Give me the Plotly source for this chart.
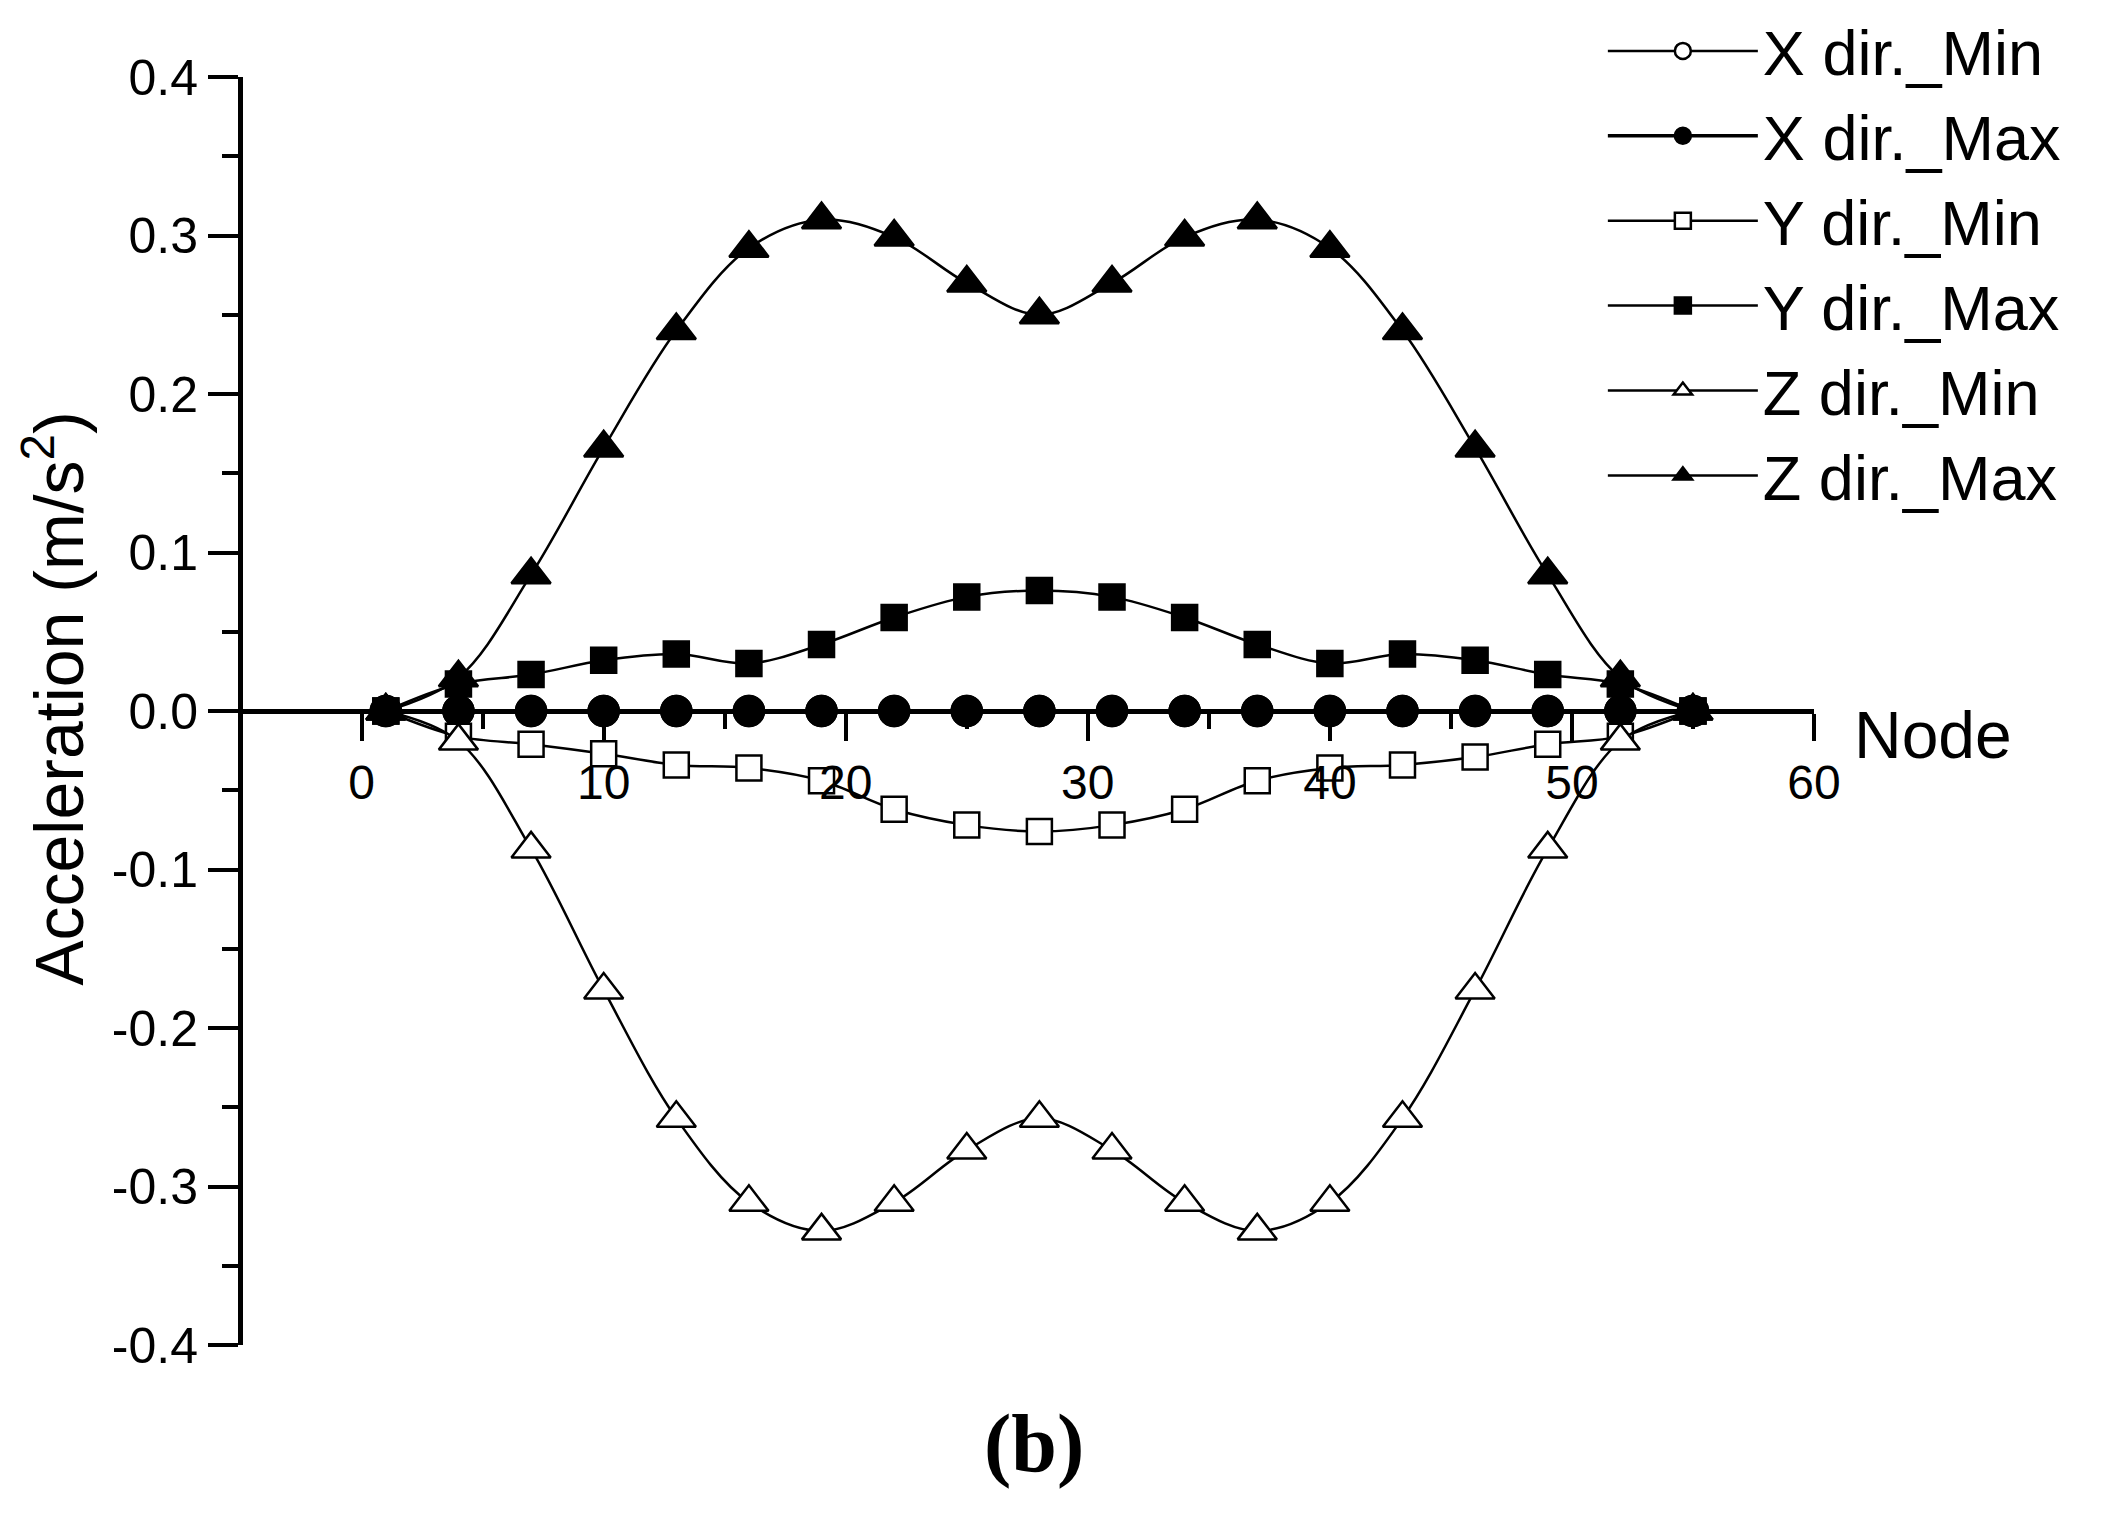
import plotly.graph_objects as go

nodes = [1, 4, 7, 10, 13, 16, 19, 22, 25, 28, 31, 34, 37, 40, 43, 46, 49, 52, 55]

x_min = [0.0] * 19
x_max = [0.0] * 19
y_min = [0.0, -0.016, -0.021, -0.027, -0.034, -0.036, -0.044, -0.062, -0.072, -0.076,
         -0.072, -0.062, -0.044, -0.036, -0.034, -0.029, -0.021, -0.016, 0.0]
y_max = [0.0, 0.017, 0.023, 0.032, 0.036, 0.030, 0.042, 0.059, 0.072, 0.076,
         0.072, 0.059, 0.042, 0.030, 0.036, 0.032, 0.023, 0.017, 0.0]
z_min = [0.0, -0.019, -0.087, -0.176, -0.257, -0.310, -0.328, -0.310, -0.277, -0.257,
         -0.277, -0.310, -0.328, -0.310, -0.257, -0.176, -0.087, -0.019, 0.0]
z_max = [0.0, 0.021, 0.086, 0.166, 0.240, 0.292, 0.310, 0.299, 0.270, 0.250,
         0.270, 0.299, 0.310, 0.292, 0.240, 0.166, 0.086, 0.021, 0.0]

series_names = ["X dir._Min", "X dir._Max", "Y dir._Min", "Y dir._Max", "Z dir._Min", "Z dir._Max"]

y_tickvals = [-0.4, -0.3, -0.2, -0.1, 0.0, 0.1, 0.2, 0.3, 0.4]
y_ticktext = ["-0.4", "-0.3", "-0.2", "-0.1", "0.0", "0.1", "0.2", "0.3", "0.4"]
x_tickvals = [0, 10, 20, 30, 40, 50, 60]
x_minor_tickvals = [5, 15, 25, 35, 45, 55]

FONT = "Arial, 'Liberation Sans', sans-serif"

styles = [
    dict(data=x_min, symbol="circle", size=30, lw=2.5, fill="white"),
    dict(data=x_max, symbol="circle", size=30, lw=3.5, fill="black"),
    dict(data=y_min, symbol="square", size=25, lw=2.5, fill="white"),
    dict(data=y_max, symbol="square", size=25, lw=2.5, fill="black"),
    dict(data=z_min, symbol="triangle-up", size=34, lw=2.5, fill="white"),
    dict(data=z_max, symbol="triangle-up", size=34, lw=2.5, fill="black"),
]

fig = go.Figure()
for name, st in zip(series_names, styles):
    fig.add_trace(go.Scatter(
        x=nodes, y=st["data"], name=name, mode="lines+markers",
        line=dict(color="black", width=st["lw"], shape="spline"),
        marker=dict(symbol=st["symbol"], size=st["size"], color=st["fill"],
                    line=dict(color="black", width=2.5)),
        cliponaxis=False,
    ))

fig.update_layout(
    width=2112, height=1517,
    margin=dict(l=235, r=306, t=69, b=180, autoexpand=False),
    paper_bgcolor="white", plot_bgcolor="white",
    font=dict(family=FONT, color="black"),
    showlegend=True,
    legend=dict(
        x=0.8656, y=1.058, xanchor="left", yanchor="top",
        font=dict(size=63, family=FONT, color="black"),
        bgcolor="rgba(0,0,0,0)", borderwidth=0, itemwidth=150,
        tracegroupgap=0,
    ),
    xaxis=dict(
        range=[-4.9, 60], anchor="free", position=0.5,
        showline=True, linecolor="black", linewidth=5,
        tickvals=x_tickvals, ticks="outside", ticklen=27, tickwidth=4, tickcolor="black",
        tickfont=dict(size=48, family=FONT, color="black"),
        minor=dict(tickvals=x_minor_tickvals, ticks="outside", ticklen=15,
                   tickwidth=4, tickcolor="black"),
        showgrid=False, zeroline=False,
    ),
    yaxis=dict(
        range=[-0.4, 0.4],
        showline=True, linecolor="black", linewidth=5,
        tickvals=y_tickvals, ticktext=y_ticktext,
        ticks="outside", ticklen=30, tickwidth=4, tickcolor="black",
        tickfont=dict(size=50, family=FONT, color="black"),
        minor=dict(dtick=0.05, ticks="outside", ticklen=16, tickwidth=4, tickcolor="black"),
        showgrid=False, zeroline=False,
    ),
    annotations=[
        dict(text="Node", xref="x", yref="y", x=60, y=0, xanchor="left", yanchor="middle",
             xshift=38, yshift=-24, showarrow=False,
             font=dict(size=66, family=FONT, color="black")),
        dict(text="Acceleration (m/s<sup>2</sup>)", xref="paper", yref="paper",
             x=-0.12, y=0.51, xanchor="center", yanchor="middle", textangle=-90,
             showarrow=False, font=dict(size=68, family=FONT, color="black")),
        dict(text="<b>(b)</b>", xref="paper", yref="paper", x=0.5035, y=-0.078,
             xanchor="center", yanchor="middle", showarrow=False,
             font=dict(size=82, family="'Times New Roman', 'Liberation Serif', serif",
                       color="black")),
    ],
)

fig.write_html("out.html")
